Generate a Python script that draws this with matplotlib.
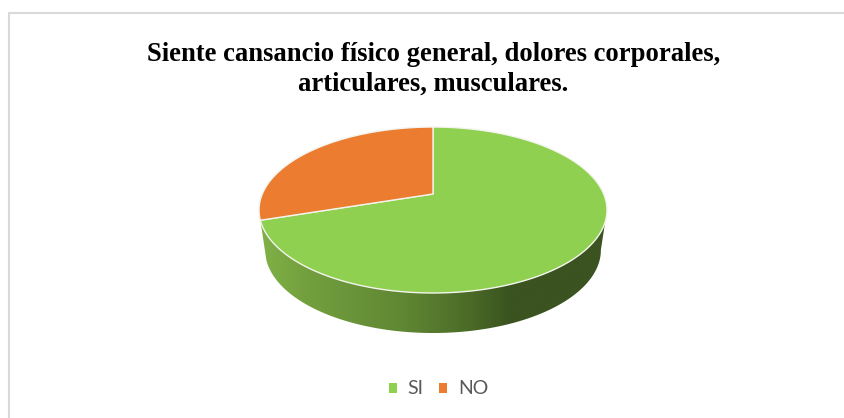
import numpy as np
import matplotlib
matplotlib.use('Agg')
import matplotlib.pyplot as plt
from matplotlib.colors import LinearSegmentedColormap
from matplotlib.patches import Patch, Polygon

titulo = 'Siente cansancio físico general, dolores corporales,\narticulares, musculares.'
categorias = ['SI', 'NO']
valores = [70, 30]
colores = ['#8fd050', '#eb7c30']

# geometria del disco en perspectiva (pixeles)
CX, CY = 433, 194
A, B, K = 79.9, 170.7, 0.193
PROF = 40
ESCALA_BASE = 0.965


def proyectar(ang):
    # ang en grados, desde las 12 en sentido horario
    t = np.radians(ang)
    u = np.sin(t)
    v = -np.cos(t)
    w = 1 - K * v
    return CX + B * u / w, CY + A * v / w


fig = plt.figure(figsize=(8.44, 4.18), dpi=100)
ax = fig.add_axes([0, 0, 1, 1])
ax.axis('off')

# marco: solo quedan a la vista el lado superior y el izquierdo
ax.plot([8.5, 8.5, 844], [418, 12.5, 12.5], color='#d9d9d9', lw=1.5, solid_joinstyle='miter')

# pared lateral con degradado, va del borde derecho al corte con NO
ang_der = 90 + np.degrees(np.arcsin(K))
ang_fin = 360 * valores[0] / sum(valores)
ang = np.linspace(ang_der, ang_fin, 200)
xs, ys = proyectar(ang)
xb = CX + (xs - CX) * ESCALA_BASE
yb = ys + PROF
pared = Polygon(np.r_[np.c_[xs, ys], np.c_[xb, yb][::-1]], closed=True, fc='none', ec='none')
ax.add_patch(pared)
degradado = LinearSegmentedColormap.from_list('pared', [(0, '#80b146'), (0.13, '#73a03e'), (0.42, '#5f8633'),
                                                        (0.61, '#4a6a27'), (0.72, '#3b5320'), (1, '#3b5320')])
img = ax.imshow(np.linspace(0, 1, 256)[None, :], cmap=degradado, aspect='auto',
                extent=(260, 607, 340, 200), interpolation='bilinear')
img.set_clip_path(pared)
ax.set_xlim(0, 844)
ax.set_ylim(418, 0)

# cara superior, un sector por categoria
inicio = 0
for valor, color in zip(valores, colores):
    fin = inicio + 360 * valor / sum(valores)
    px, py = proyectar(np.linspace(inicio, fin, 300))
    ax.add_patch(Polygon(np.r_[[[CX, CY]], np.c_[px, py]], closed=True, fc=color,
                         ec='#f4f4ee', lw=1.0, joinstyle='round'))
    inicio = fin

ax.text(433.5, 69.5, titulo, ha='center', va='center', fontsize=19.2, fontweight='bold',
        family='Liberation Serif', color='black', linespacing=1.22)

manejadores = [Patch(fc=c, ec='none', label=n) for c, n in zip(colores, categorias)]
ax.legend(handles=manejadores, loc='center', bbox_to_anchor=(438.5 / 844, 1 - 389 / 418),
          ncol=2, frameon=False, prop={'family': 'Lato', 'size': 14},
          handlelength=0.42, handleheight=0.42, handletextpad=0.55, columnspacing=0.8,
          labelcolor='#595959')

plt.savefig('out.png', dpi=100)
